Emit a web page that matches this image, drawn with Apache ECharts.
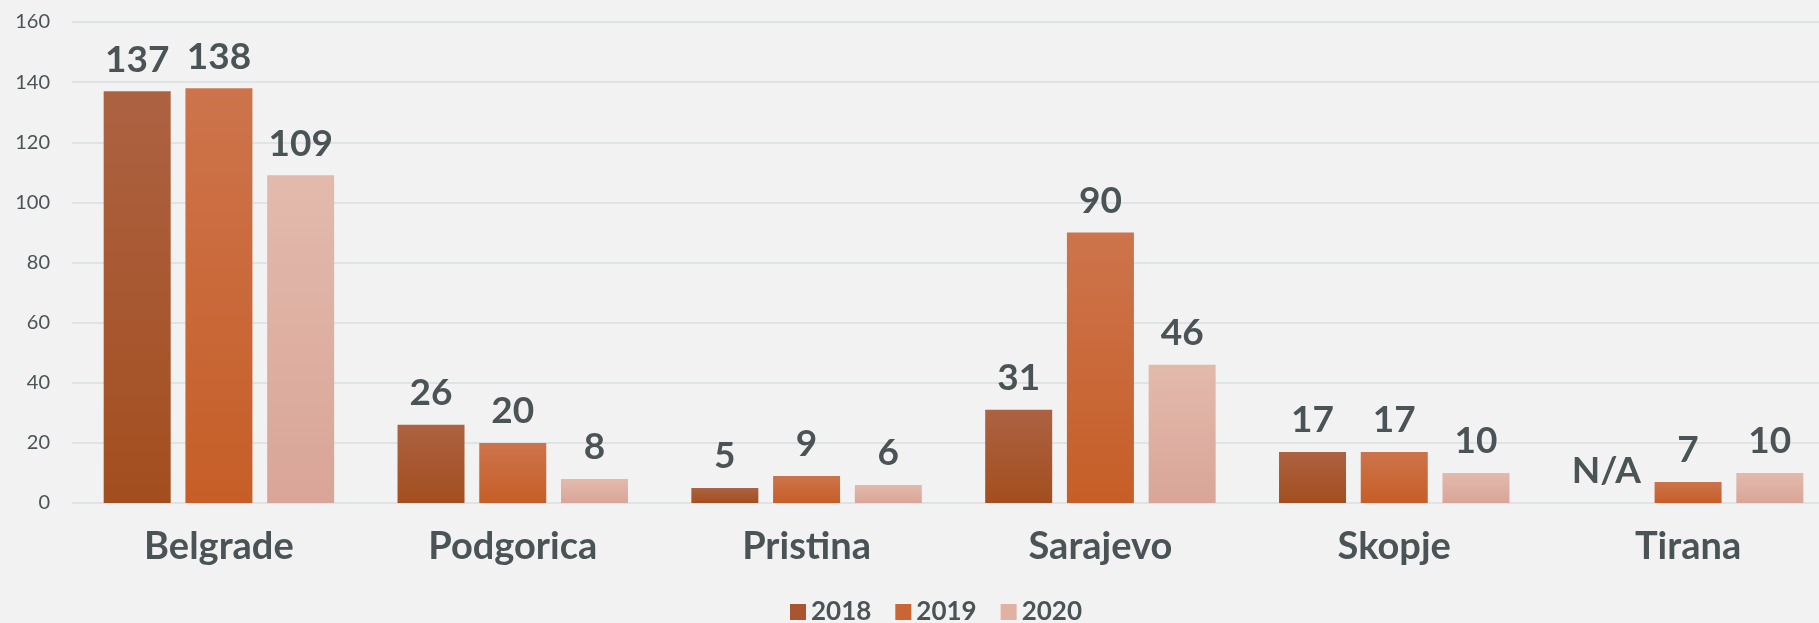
<!DOCTYPE html>
<html>
<head>
<meta charset="utf-8">
<script src="https://cdn.jsdelivr.net/npm/echarts@6/dist/echarts.min.js"></script>
<style>
  html, body { margin: 0; padding: 0; background: #f2f2f2; }
  #chart { width: 1819px; height: 623px; }
</style>
</head>
<body>
<div id="chart"></div>
<script>
  // 数据
  const cities = ["Belgrade", "Podgorica", "Pristina", "Sarajevo", "Skopje", "Tirana"];
  const years = ["2018", "2019", "2020"];
  const v2018 = [137, 26, 5, 31, 17, null]; // Tirana 2018 无数据
  const v2019 = [138, 20, 9, 90, 17, 7];
  const v2020 = [109, 8, 6, 46, 10, 10];
  const yTicks = [0, 20, 40, 60, 80, 100, 120, 140, 160];

  const TEXT = "#4a5456";
  const FONT = "Lato, 'Open Sans', sans-serif";

  function grad(top, bottom) {
    return new echarts.graphic.LinearGradient(0, 0, 0, 1, [
      { offset: 0, color: top },
      { offset: 1, color: bottom },
    ]);
  }

  const colors = [
    grad("#ad6242", "#a34e1f"),
    grad("#cd744c", "#c65e27"),
    grad("#e2baac", "#d9a598"),
  ];
  const legendColors = ["#a85530", "#c96634", "#e0b2a4"];

  function toData(arr) {
    return arr.map((v) =>
      v === null ? { value: 0, label: { formatter: "N/A" } } : v
    );
  }

  const chart = echarts.init(document.getElementById("chart"), null, { renderer: "canvas" });
  chart.setOption({
    backgroundColor: "#f2f2f2",
    animation: false,
    textStyle: { fontFamily: FONT },
    // 绘图区略超出右边界，与原图一致
    grid: {
      top: 22, left: 72, width: 1763, bottom: 120,
      containLabel: false, outerBoundsMode: "none",
    },
    legend: {
      bottom: -7,
      left: 785,
      itemWidth: 16,
      itemHeight: 16,
      itemGap: 24,
      icon: "rect",
      textStyle: { color: TEXT, fontSize: 26, fontWeight: "bold", fontFamily: FONT },
      data: years.map((y, i) => ({ name: y, itemStyle: { color: legendColors[i] } })),
    },
    xAxis: {
      type: "category",
      data: cities,
      axisLine: { show: false },
      axisTick: { show: false },
      axisLabel: { color: TEXT, fontSize: 38, fontWeight: "bold", margin: 25, fontFamily: FONT },
    },
    yAxis: {
      type: "value",
      min: yTicks[0],
      max: yTicks[yTicks.length - 1],
      interval: 20,
      axisLine: { show: false },
      axisTick: { show: false },
      axisLabel: { color: TEXT, fontSize: 20, margin: 22, fontFamily: FONT },
      splitLine: { lineStyle: { color: "#dfe3e3", width: 2 } },
    },
    series: [v2018, v2019, v2020].map((arr, i) => ({
      name: years[i],
      type: "bar",
      data: toData(arr),
      barWidth: "22.8%",
      barGap: "22%",
      itemStyle: { color: colors[i] },
      label: {
        show: true,
        position: "top",
        distance: 13,
        color: TEXT,
        fontSize: 37,
        fontWeight: "bold",
        fontFamily: FONT,
      },
    })),
  });
</script>
</body>
</html>
